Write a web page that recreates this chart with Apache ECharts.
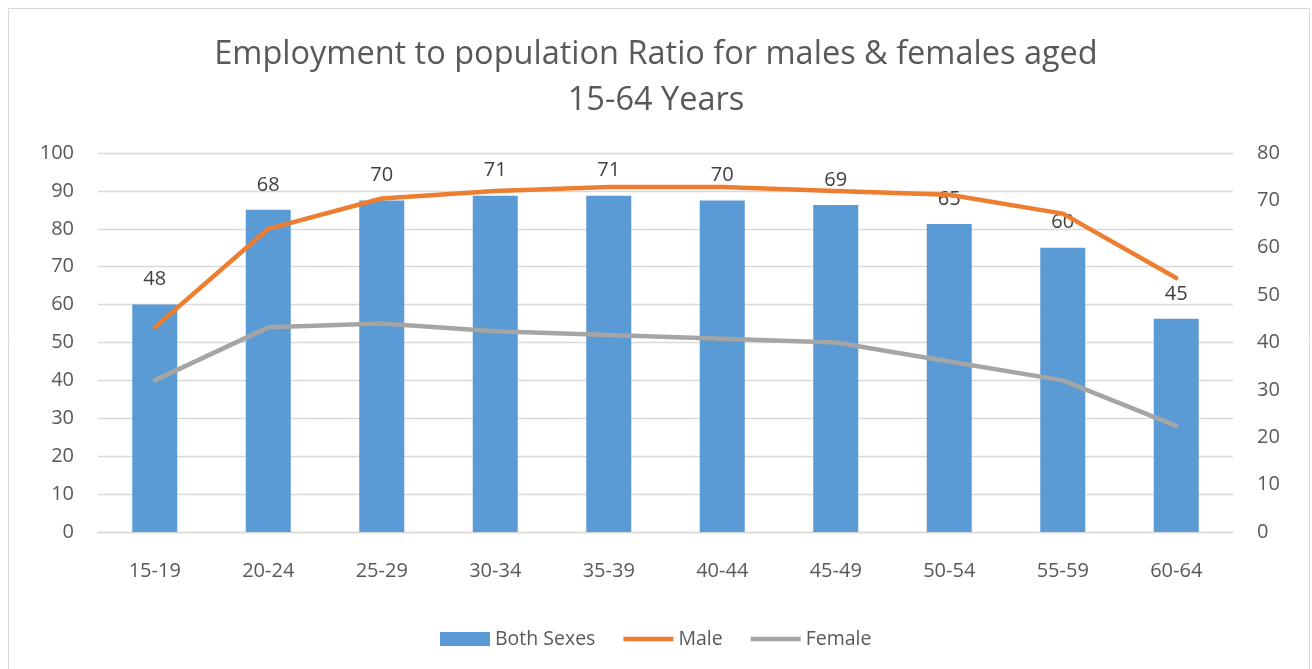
<!DOCTYPE html>
<html>
<head>
<meta charset="utf-8">
<script src="https://cdn.jsdelivr.net/npm/echarts@6/dist/echarts.min.js"></script>
<style>
  html, body { margin: 0; padding: 0; background: #fff; }
  #main { width: 1312px; height: 669px; }
</style>
</head>
<body>
<div id="main"></div>
<script>
// data
const ageGroups = ["15-19", "20-24", "25-29", "30-34", "35-39", "40-44", "45-49", "50-54", "55-59", "60-64"];
const bothSexes = [48, 68, 70, 71, 71, 70, 69, 65, 60, 45]; // right axis
const male = [54, 80, 88, 90, 91, 91, 90, 89, 84, 67]; // left axis
const female = [40, 54, 55, 53, 52, 51, 50, 45, 40, 28]; // left axis

const FONT = "Open Sans";
const TXT = "#595959";
const LINE_ICON = "path://M0 0 H50 V4.5 H0 Z"; // flat line legend marker

let myChart = echarts.init(document.getElementById("main"));

let option = {
  backgroundColor: "#fff",
  animation: false,
  textStyle: { fontFamily: FONT },
  graphic: [
    {
      // outer chart border
      type: "rect",
      shape: { x: 8.5, y: 8.5, width: 1301, height: 700 },
      style: { fill: "none", stroke: "#D9D9D9", lineWidth: 1 },
      silent: true,
    },
  ],
  title: {
    text: "Employment to population Ratio for males & females aged\n15-64 Years",
    left: "center",
    top: 27,
    textStyle: {
      color: TXT,
      fontFamily: FONT,
      fontSize: 32.5,
      fontWeight: "normal",
      lineHeight: 46,
    },
  },
  legend: {
    left: 435,
    top: 624,
    itemWidth: 50,
    itemHeight: 14,
    itemGap: 28,
    textStyle: { color: TXT, fontSize: 19.5, fontFamily: FONT },
    data: [
      { name: "Both Sexes", icon: "rect" },
      { name: "Male", icon: LINE_ICON },
      { name: "Female", icon: LINE_ICON },
    ],
  },
  grid: {
    left: 98,
    right: 79,
    top: 153,
    bottom: 137,
    containLabel: false,
  },
  xAxis: {
    type: "category",
    data: ageGroups,
    axisLine: { lineStyle: { color: "#D9D9D9", width: 1.3 } },
    axisTick: { show: false },
    axisLabel: { color: TXT, fontSize: 20, margin: 29 },
  },
  yAxis: [
    {
      type: "value",
      min: 0,
      max: 100,
      interval: 10,
      axisLine: { show: false },
      axisTick: { show: false },
      axisLabel: { color: TXT, fontSize: 20, margin: 24 },
      splitLine: { lineStyle: { color: "#D9D9D9", width: 1.3 } },
    },
    {
      type: "value",
      min: 0,
      max: 80,
      interval: 10,
      axisLine: { show: false },
      axisTick: { show: false },
      axisLabel: { color: TXT, fontSize: 20, margin: 24 },
      splitLine: { show: false },
    },
  ],
  series: [
    {
      name: "Both Sexes",
      type: "bar",
      yAxisIndex: 1,
      barWidth: 45,
      data: bothSexes,
      itemStyle: { color: "#5B9BD5" },
      label: {
        show: true,
        position: "top",
        distance: 15,
        color: "#404040",
        fontSize: 20,
        fontFamily: FONT,
      },
    },
    {
      name: "Male",
      type: "line",
      yAxisIndex: 0,
      data: male,
      symbol: "none",
      lineStyle: { color: "#ED7D31", width: 4.5, cap: "round", join: "round" },
      itemStyle: { color: "#ED7D31" },
    },
    {
      name: "Female",
      type: "line",
      yAxisIndex: 0,
      data: female,
      symbol: "none",
      lineStyle: { color: "#A5A5A5", width: 4.5, cap: "round", join: "round" },
      itemStyle: { color: "#A5A5A5" },
    },
  ],
};

myChart.setOption(option);
</script>
</body>
</html>
